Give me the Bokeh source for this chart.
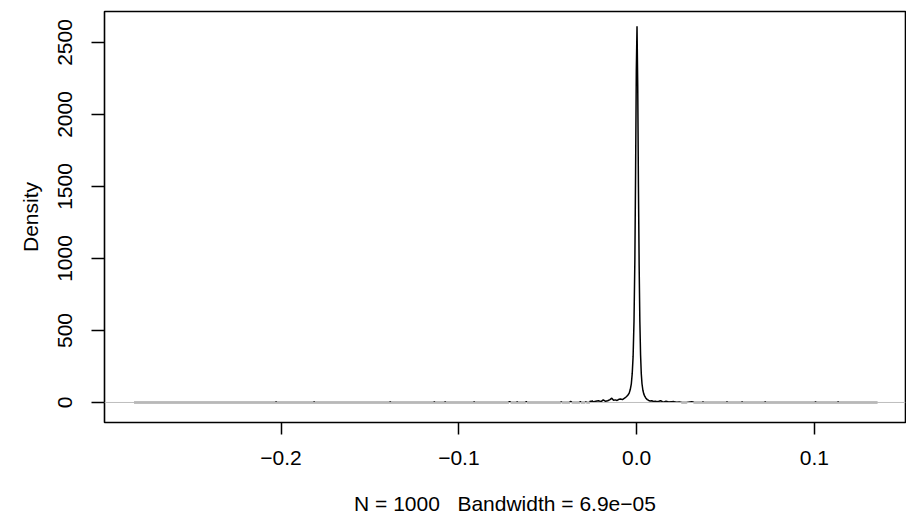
from bokeh.plotting import figure
from bokeh.models import FixedTicker, CustomJSTickFormatter, Span, Range1d
from bokeh.embed import file_html
from bokeh.resources import INLINE

# ---- data ----
density_x = [
    -0.2827, -0.2031, -0.2028, -0.2025, -0.1817, -0.1814, -0.1811,
    -0.1389, -0.1386, -0.1383, -0.1141, -0.1138, -0.1135,
    -0.1080, -0.1077, -0.1074, -0.0917, -0.0914, -0.0911,
    -0.0720, -0.0717, -0.0712, -0.0708, -0.0675, -0.0672, -0.0669,
    -0.0624, -0.0621, -0.0618, -0.0427, -0.0424, -0.0420,
    -0.0376, -0.0373, -0.0368, -0.0364, -0.0320, -0.0317, -0.0313,
    -0.0290, -0.0286, -0.0282, -0.0264, -0.0261, -0.0256, -0.0250,
    -0.0245, -0.0230, -0.0215, -0.0200, -0.0188, -0.0175, -0.0163,
    -0.0150, -0.0140, -0.0130, -0.0120, -0.0110, -0.0100, -0.0090,
    -0.0080, -0.0068, -0.0058, -0.0050, -0.0042, -0.0036, -0.0030,
    -0.0025, -0.0020, -0.0015, -0.0010, -0.0006, -0.0002,
    0.0002, 0.0006, 0.0010, 0.0014, 0.0018, 0.0022, 0.0026, 0.0030,
    0.0035, 0.0040, 0.0046, 0.0052, 0.0060, 0.0068, 0.0076, 0.0085,
    0.0095, 0.0105, 0.0115, 0.0125, 0.0135, 0.0145, 0.0155, 0.0165,
    0.0180, 0.0195, 0.0210, 0.0225, 0.0240, 0.0255,
    0.0280, 0.0310, 0.0316, 0.0322, 0.0370, 0.0373, 0.0376,
    0.0505, 0.0508, 0.0511, 0.0590, 0.0593, 0.0596,
    0.0720, 0.0723, 0.0726, 0.1003, 0.1006, 0.1009,
    0.1130, 0.1133, 0.1136, 0.1355,
]
density_y = [
    0, 0, 5, 0, 0, 5, 0,
    0, 6, 0, 0, 5, 0,
    0, 6, 0, 0, 5, 0,
    0, 6, 5, 0, 0, 6, 0,
    0, 7, 0, 0, 6, 0,
    0, 8, 5, 0, 0, 7, 0,
    0, 6, 0, 0, 10, 6, 12,
    4, 8, 12, 6, 18, 8, 12,
    20, 30, 15, 18, 14, 22, 24,
    20, 30, 40, 50, 65, 90, 130,
    200, 320, 560, 1000, 1600, 2300,
    2612, 2200, 1500, 950, 560, 330, 200, 130,
    85, 60, 42, 30, 20, 14, 10, 12,
    7, 9, 5, 8, 12, 6, 4, 9,
    3, 5, 6, 2, 4, 0,
    0, 6, 4, 0, 0, 5, 0,
    0, 6, 0, 0, 5, 0,
    0, 5, 0, 0, 5, 0,
    0, 5, 0, 0,
]

x_ticks = [-0.2, -0.1, 0.0, 0.1]
x_tick_labels = ["\u22120.2", "\u22120.1", "0.0", "0.1"]
y_ticks = [0, 500, 1000, 1500, 2000, 2500]
y_tick_labels = ["0", "500", "1000", "1500", "2000", "2500"]

y_label = "Density"
x_label = "N = 1000 \u00a0 Bandwidth = 6.9e\u221205"

FONT = "Liberation Sans"
FS = "21px"

p = figure(
    width=906, height=519,
    x_range=Range1d(-0.2993, 0.1512),
    y_range=Range1d(-139, 2715),
    output_backend="svg", toolbar_location=None,
    min_border_left=104, min_border_right=1,
    min_border_top=11, min_border_bottom=97,
)
p.background_fill_color = "white"
p.border_fill_color = "white"
p.grid.visible = False
p.outline_line_color = "black"
p.outline_line_width = 1.6

p.line(density_x, density_y, line_color="black", line_width=1.5)
p.add_layout(Span(location=0, dimension="width", line_color="#bebebe", line_width=1))

fmt_code = """
const i = tv.findIndex(t => Math.abs(t - tick) < 1e-9);
return i >= 0 ? tl[i] : '';
"""

xa = p.xaxis[0]
xa.ticker = FixedTicker(ticks=x_ticks)
xa.formatter = CustomJSTickFormatter(args=dict(tv=x_ticks, tl=x_tick_labels), code=fmt_code)
ya = p.yaxis[0]
ya.ticker = FixedTicker(ticks=y_ticks)
ya.formatter = CustomJSTickFormatter(args=dict(tv=y_ticks, tl=y_tick_labels), code=fmt_code)
ya.major_label_orientation = "vertical"

for ax in (xa, ya):
    ax.axis_line_color = None
    ax.major_tick_line_color = "black"
    ax.major_tick_line_width = 1.5
    ax.major_tick_in = 0
    ax.minor_tick_line_color = None
    ax.major_label_text_font = FONT
    ax.major_label_text_font_size = FS
    ax.major_label_text_color = "black"
    ax.axis_label_text_font = FONT
    ax.axis_label_text_font_size = FS
    ax.axis_label_text_font_style = "normal"
    ax.axis_label_text_color = "black"

xa.major_tick_out = 12
xa.major_label_standoff = 16
xa.axis_label = x_label
xa.axis_label_standoff = 24

ya.major_tick_out = 13
ya.major_label_standoff = 19
ya.axis_label = y_label
ya.axis_label_standoff = 14

open("out.html", "w").write(file_html(p, INLINE))
